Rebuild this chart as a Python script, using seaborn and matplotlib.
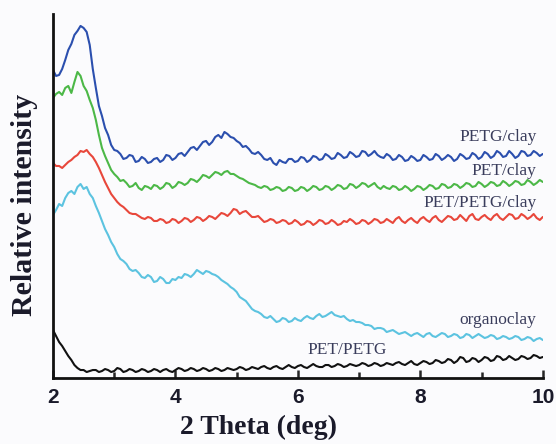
import numpy as np
import pandas as pd
import matplotlib
matplotlib.use("Agg")
import matplotlib.pyplot as plt
import seaborn as sns
from matplotlib.ticker import MultipleLocator

# ================================================================
# 2-theta grid (deg), 0.05 step, and intensities
two_theta = np.round(np.linspace(2.0, 10.0, 161), 2)

petg_clay = [308, 302, 303, 309, 318, 328, 334, 343, 347, 352,
             350, 346, 333, 309, 290, 272, 262, 250, 243, 233,
             228, 227, 224, 219, 220, 223, 222, 216, 217, 221,
             219, 215, 216, 219, 220, 216, 218, 223, 222, 218,
             220, 224, 225, 222, 226, 230, 231, 228, 232, 236,
             237, 233, 236, 241, 243, 240, 246, 244, 241, 240,
             237, 235, 231, 232, 229, 225, 224, 226, 223, 219,
             218, 220, 215, 213, 218, 216, 215, 219, 219, 216,
             217, 221, 220, 216, 218, 222, 221, 218, 219, 224,
             222, 219, 220, 225, 223, 220, 221, 226, 224, 221,
             222, 227, 226, 222, 224, 227, 223, 221, 220, 224,
             222, 218, 219, 223, 221, 217, 218, 222, 220, 217,
             218, 223, 221, 218, 219, 224, 222, 218, 220, 223,
             221, 217, 219, 224, 222, 219, 220, 225, 223, 219,
             221, 226, 224, 220, 222, 227, 225, 221, 222, 227,
             224, 220, 222, 227, 226, 222, 223, 227, 225, 222, 224]

pet_clay = [280, 284, 286, 283, 290, 292, 285, 296, 306, 302,
            292, 287, 278, 270, 258, 243, 230, 222, 215, 208,
            204, 201, 197, 198, 195, 191, 192, 195, 190, 188,
            192, 191, 189, 193, 192, 189, 191, 195, 194, 190,
            192, 196, 195, 193, 195, 199, 198, 196, 199, 203,
            202, 200, 203, 206, 205, 203, 206, 207, 204, 204,
            202, 200, 199, 197, 195, 194, 193, 191, 190, 192,
            191, 188, 189, 191, 190, 187, 188, 191, 190, 187,
            188, 191, 190, 187, 189, 192, 191, 188, 189, 192,
            191, 188, 190, 193, 192, 189, 190, 194, 193, 190,
            192, 195, 194, 191, 193, 195, 191, 189, 192, 190,
            189, 192, 191, 188, 189, 192, 190, 187, 189, 192,
            191, 188, 190, 193, 192, 189, 190, 194, 193, 190,
            191, 194, 193, 190, 192, 195, 194, 191, 192, 196,
            194, 191, 193, 196, 195, 192, 193, 197, 195, 192,
            194, 197, 196, 193, 194, 198, 196, 193, 195, 198, 196]

pet_petg_clay = [215, 212, 212, 210, 213, 216, 218, 221, 223, 227,
                 226, 228, 224, 221, 216, 210, 203, 196, 190, 184,
                 180, 176, 173, 171, 168, 165, 164, 164, 162, 160,
                 159, 161, 160, 157, 157, 159, 158, 155, 156, 159,
                 158, 155, 157, 160, 159, 156, 158, 161, 160, 157,
                 159, 162, 161, 159, 162, 165, 164, 162, 165, 169,
                 168, 164, 166, 167, 164, 161, 161, 162, 159, 156,
                 157, 159, 158, 155, 156, 158, 157, 154, 155, 158,
                 156, 153, 154, 157, 156, 153, 155, 158, 157, 154,
                 155, 158, 156, 153, 154, 157, 156, 159, 157, 154,
                 155, 158, 157, 154, 156, 159, 158, 155, 156, 159,
                 157, 155, 159, 161, 157, 155, 158, 160, 157, 155,
                 159, 161, 158, 156, 160, 162, 158, 156, 159, 162,
                 161, 158, 159, 163, 160, 157, 162, 164, 159, 158,
                 161, 163, 160, 158, 162, 164, 160, 158, 161, 164,
                 163, 159, 160, 164, 162, 159, 161, 164, 160, 158, 161]

organoclay = [163, 168, 174, 172, 180, 185, 187, 184, 191, 194,
              189, 191, 184, 180, 172, 165, 157, 149, 143, 136,
              131, 124, 119, 117, 114, 109, 107, 108, 105, 101,
              100, 103, 101, 96, 97, 101, 99, 95, 95, 99,
              98, 101, 100, 104, 103, 101, 104, 108, 106, 104,
              107, 106, 104, 103, 101, 98, 96, 94, 91, 89,
              86, 81, 79, 77, 73, 69, 67, 66, 64, 61,
              60, 62, 59, 56, 57, 60, 59, 56, 57, 60,
              58, 57, 60, 62, 60, 59, 62, 64, 61, 62,
              64, 66, 63, 62, 61, 62, 59, 57, 58, 56,
              56, 55, 53, 53, 52, 49, 50, 50, 49, 46,
              47, 48, 46, 44, 45, 46, 44, 42, 44, 45,
              43, 41, 44, 45, 42, 41, 43, 45, 44, 41,
              42, 44, 43, 40, 41, 44, 43, 40, 42, 44,
              42, 40, 41, 43, 42, 39, 40, 42, 41, 39,
              40, 42, 41, 38, 39, 41, 40, 37, 39, 40, 38]

pet_petg = [48, 42, 36, 32, 27, 22, 18, 13, 10, 8,
            8, 6, 7, 8, 8, 6, 7, 9, 8, 6,
            7, 10, 9, 6, 7, 9, 8, 6, 7, 9,
            8, 6, 7, 9, 8, 6, 8, 9, 7, 6,
            8, 10, 9, 7, 8, 10, 9, 7, 8, 10,
            9, 7, 8, 10, 9, 7, 8, 10, 9, 8,
            9, 11, 10, 8, 9, 11, 10, 9, 11, 12,
            10, 9, 11, 12, 10, 9, 11, 13, 11, 10,
            12, 13, 11, 10, 12, 14, 12, 11, 11, 13,
            13, 11, 12, 14, 13, 11, 12, 14, 13, 12,
            13, 15, 14, 12, 13, 15, 14, 12, 13, 15,
            14, 13, 15, 16, 14, 13, 15, 17, 14, 13,
            15, 17, 16, 14, 15, 18, 17, 15, 16, 19,
            18, 15, 17, 21, 20, 16, 17, 20, 19, 16,
            18, 21, 20, 17, 18, 22, 21, 18, 19, 22,
            20, 18, 19, 22, 21, 19, 20, 23, 22, 20, 21]

series = {
    "PETG/clay": petg_clay,
    "PET/clay": pet_clay,
    "PET/PETG/clay": pet_petg_clay,
    "organoclay": organoclay,
    "PET/PETG": pet_petg,
}
colors = {
    "PETG/clay": "#2b4fae",
    "PET/clay": "#4cb847",
    "PET/PETG/clay": "#e8473b",
    "organoclay": "#5cc3e0",
    "PET/PETG": "#111111",
}
# ================================================================

df = pd.concat(
    [pd.DataFrame({"2theta": two_theta, "intensity": v, "sample": k}) for k, v in series.items()],
    ignore_index=True,
)

sns.set_style("ticks")
fig = plt.figure(figsize=(5.56, 4.44), dpi=100, facecolor="#fbfbfd")
ax = fig.add_axes([0.0953, 0.1486, 0.881, 0.82])
ax.set_facecolor("#fbfbfd")

sns.lineplot(data=df, x="2theta", y="intensity", hue="sample", palette=colors,
             linewidth=1.5, ax=ax, legend=False)

ax.set_xlim(2, 10)
ax.set_ylim(0, 364)
ax.set_yticks([])
ax.xaxis.set_major_locator(MultipleLocator(2))
ax.xaxis.set_minor_locator(MultipleLocator(1))
ax.tick_params(axis="x", which="major", direction="in", length=6, width=1.8, pad=7)
ax.tick_params(axis="x", which="minor", direction="in", length=4, width=1.8)
for lbl in ax.get_xticklabels():
    lbl.set_fontfamily("Liberation Sans")
    lbl.set_fontweight("bold")
    lbl.set_fontsize(15)
    lbl.set_color("#1a1a2a")
for side in ["top", "right"]:
    ax.spines[side].set_visible(False)
for side in ["left", "bottom"]:
    ax.spines[side].set_linewidth(2.0)
    ax.spines[side].set_color("#111111")

ax.set_xlabel("2 Theta (deg)", family="Liberation Serif", fontweight="bold",
              fontsize=20, color="#1a1a2a")
ax.xaxis.set_label_coords(0.42, -0.10)
ax.set_ylabel("Relative intensity", family="Liberation Serif", fontweight="bold",
              fontsize=21.5, color="#1a1a2a")
ax.yaxis.set_label_coords(-0.03, 0.475)

# Curve labels.
lab = dict(family="Liberation Serif", fontsize=12.5, color="#3a3d5c", va="center")
ax.text(9.90, 241, "PETG/clay", ha="right", **lab)
ax.text(9.90, 207, "PET/clay", ha="right", **lab)
ax.text(9.90, 175, "PET/PETG/clay", ha="right", **lab)
ax.text(9.90, 58, "organoclay", ha="right", **lab)
ax.text(6.81, 28, "PET/PETG", ha="center", **lab)

plt.savefig("out.png", dpi=100, facecolor=fig.get_facecolor())
